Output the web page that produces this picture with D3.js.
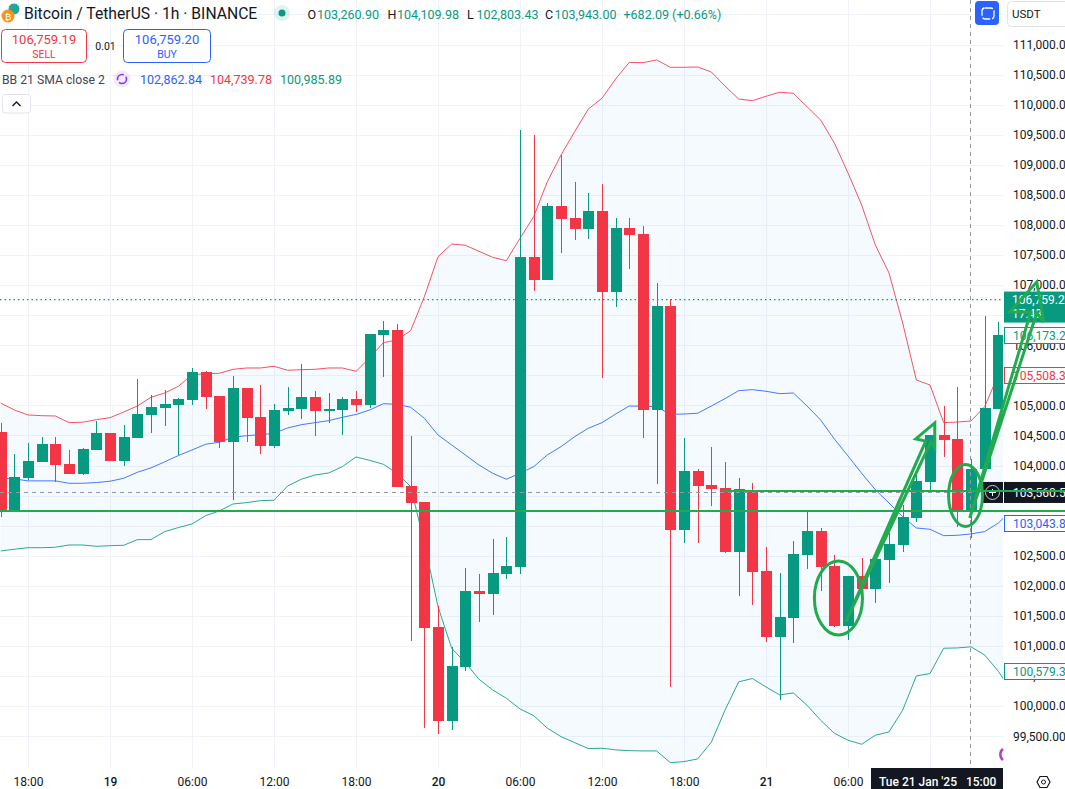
<!DOCTYPE html>
<html>
<head>
<meta charset="utf-8">
<script src="https://cdn.jsdelivr.net/npm/d3@7"></script>
<style>
  html, body { margin: 0; padding: 0; background: #fff; overflow: hidden; }
  text { font-family: Roboto, sans-serif; }
</style>
</head>
<body>
<svg id="chart" width="1065" height="789"></svg>
<script>
// hourly candles, first one is 16:00 on the 18th (hour -2 counted from 18:00)
const firstHour = -2;
const opens = [104558,103245,103793,104059,104359,104026,103860,104259,104541,104076,104458,104841,104957,105007,105090,105555,105157,104392,105290,104807,104325,104907,104940,105140,104907,104924,105107,105007,106171,106254,103660,103394,101316,99753,100651,101915,101865,102197,102314,107467,107085,108315,108116,107933,108232,106886,107950,107850,104924,106653,102929,103910,103677,103627,102563,103594,102247,101150,101466,102513,102912,102330,101333,102164,101948,102430,102679,103128,103727,104508,104442,103260.9,103943,104940];
const highs = [104708,104192,104375,104475,104475,104259,104292,104741,104541,104674,105439,105173,105256,105123,105622,105572,105157,105489,105290,105339,105023,105306,105689,105240,105206,105140,105240,106187,106403,106354,104491,103394,101665,100984,102297,102197,102779,102812,109579,109496,108365,109163,108714,108531,108681,108116,108116,107983,107035,106769,104458,103943,104309,104059,103793,103710,102646,102214,102746,103228,102962,102513,102164,102463,102447,102879,103344,103876,104508,104990,105306,104109.98,106487,106387];
const lows = [103150,103245,103760,104059,103732,103860,103843,104259,104076,103993,104458,104541,104658,104176,105007,104940,104292,103427,104392,104192,104292,104841,104774,104491,104708,104508,104890,104957,105472,103644,101083,99637,99537,99604,100585,101399,101516,102114,102197,106902,107085,107534,107750,107766,105456,106636,107268,104458,103693,100319,102713,102713,103328,102546,101832,101682,101067,100102,101050,102280,101915,101316,101100,101948,101715,102048,102563,103062,103594,104142,102979,102803.43,103910,104940];
const closes = [103228,103810,104076,104359,104009,103860,104275,104541,104076,104475,104857,104974,105023,105107,105555,105140,104392,105290,104791,104325,104924,104957,105140,104907,104940,105107,105007,106187,106254,103644,103378,101300,99753,100668,101915,101865,102214,102330,107467,107085,108315,108099,107933,108232,106886,107950,107833,104924,106653,102929,103910,103660,103610,102563,103610,102230,101150,101482,102530,102912,102314,101333,102164,101948,102447,102696,103145,103743,104508,104425,103261,103943,104957,106173];

// Bollinger bands, one value per hour, they run one hour past the last candle shown
const upperBand = [105040,104924,104841,104829,104824,104713,104720,104763,104796,104890,104990,105135,105206,105317,105510,105527,105534,105600,105622,105622,105650,105584,105594,105600,105622,105622,105567,105788,106043,106088,106242,106807,107472,107683,107662,107562,107462,107406,107778,108137,108719,109163,109551,109928,110106,110427,110704,110698,110743,110621,110621,110626,110543,110310,110094,110066,110139,110206,110189,109966,109745,109363,108864,108332,107667,107201,106370,105423,105339,104713,104724,104739.78,104979,105508.3,105788];
const basisBand = [103788,103778,103745,103745,103745,103705,103705,103717,103739,103788,103888,103961,104061,104166,104259,104354,104387,104470,104497,104513,104536,104625,104679,104713,104746,104802,104849,104924,105028,105018,104969,104786,104508,104342,104176,104009,103871,103772,103871,103981,104176,104314,104480,104620,104713,104857,104990,104985,104979,104849,104857,104869,104990,105112,105245,105262,105235,105195,105206,104990,104757,104442,104159,103871,103598,103377,103150,102962,102940,102834,102840,102862.84,102902,103043.8,103261];
const lowerBand = [102580,102608,102634,102634,102641,102679,102679,102657,102667,102674,102768,102768,102902,102968,103029,103167,103245,103361,103383,103416,103423,103660,103772,103843,103876,103981,104142,104087,104021,103871,103649,102713,101654,100962,100723,100447,100269,100131,99953,99842,99633,99493,99393,99294,99300,99272,99260,99255,99255,99060,99077,99122,99400,99932,100403,100459,100319,100186,100219,100015,99765,99549,99433,99366,99516,99571,99932,100502,100542,100962,100967,100985.89,100850,100579.3,100235];

const priceTicks = [99500,100000,100500,101000,101500,102000,102500,103000,103500,104000,104500,105000,105500,106000,106500,107000,107500,108000,108500,109000,109500,110000,110500,111000];
const gridPrices = priceTicks.concat([111500]);
const timeTicks = [0,6,12,18,24,30,36,42,48,54,60];
const timeLabels = ["18:00","19","06:00","12:00","18:00","20","06:00","12:00","18:00","21","06:00"];
const gridHours = timeTicks.concat([66]);
const dayTicks = ["19","20","21"];

const lastPrice = 106759.2;
const crossHour = 69;
const crossPrice = 103560.5;

// pencil drawings on the chart, in [hour, price]
const lowLine = 103245;
const highLine = 103577;
const highLineStart = 50.84;
const arrowOne = [[59.84,101399],[65.69,104408],[64.96,104442],[66.35,104708],[66.35,104292],[66.06,104392]];
const arrowTwo = [[68.91,103128],[73.37,106553],[71.84,106553],[73.81,107052],[74.32,106387],[73.81,106536]];
const circles = [[59.3,101798,1.76,615],[68.6,103502,1.24,515]];

const axisLabels = [
  {value: 106173.2, color: "#089981"},
  {value: 105508.3, color: "#f23645"},
  {value: 103043.8, color: "#2962ff"},
  {value: 100579.3, color: "#089981"}
];

const width = 1065, height = 789;
const plotRight = 1003, plotBottom = 768;
const upColor = "#089981", downColor = "#f23645", drawColor = "#22ab4e", textColor = "#131722";

const x = d3.scaleLinear().domain([0, 66]).range([28, 930]);
const y = d3.scaleLinear().domain([111000, 99500]).range([44.5, 736.2]);

const svg = d3.select("#chart");
const hours = opens.map(function (d, i) { return firstHour + i; });
const bandHours = upperBand.map(function (d, i) { return firstHour + i; });

svg.append("defs").append("clipPath").attr("id", "plot")
  .append("rect").attr("width", plotRight).attr("height", plotBottom);

const plot = svg.append("g").attr("clip-path", "url(#plot)");

// grid
plot.append("g").selectAll("line").data(gridPrices).join("line")
  .attr("x1", 0).attr("x2", plotRight)
  .attr("y1", function (d) { return Math.round(y(d)) + 0.5; })
  .attr("y2", function (d) { return Math.round(y(d)) + 0.5; })
  .attr("stroke", "#f0f3fa");
plot.append("g").selectAll("line").data(gridHours).join("line")
  .attr("x1", function (d) { return Math.round(x(d)) + 0.5; })
  .attr("x2", function (d) { return Math.round(x(d)) + 0.5; })
  .attr("y1", 0).attr("y2", plotBottom)
  .attr("stroke", "#f0f3fa");

// bands
const bandFill = d3.area()
  .x(function (d, i) { return x(bandHours[i]); })
  .y0(function (d, i) { return y(lowerBand[i]); })
  .y1(function (d) { return y(d); });
plot.append("path").datum(upperBand).attr("d", bandFill)
  .attr("fill", "#2196f3").attr("fill-opacity", 0.05);

const bandLine = d3.line()
  .x(function (d, i) { return x(bandHours[i]); })
  .y(function (d) { return y(d); });
[[upperBand, downColor], [basisBand, "#2962ff"], [lowerBand, upColor]].forEach(function (b) {
  plot.append("path").datum(b[0]).attr("d", bandLine)
    .attr("fill", "none").attr("stroke", b[1]).attr("stroke-width", 1).attr("stroke-opacity", 0.85);
});

// last price line
plot.append("line")
  .attr("x1", 0).attr("x2", plotRight)
  .attr("y1", y(lastPrice)).attr("y2", y(lastPrice))
  .attr("stroke", upColor).attr("stroke-width", 1.2).attr("stroke-dasharray", "1.5 3");

// candles
const candles = plot.append("g").selectAll("g").data(hours).join("g")
  .attr("fill", function (d, i) { return closes[i] >= opens[i] ? upColor : downColor; });
candles.append("rect")
  .attr("x", function (d) { return Math.round(x(d)); })
  .attr("width", 1)
  .attr("y", function (d, i) { return Math.round(y(highs[i])); })
  .attr("height", function (d, i) { return Math.round(y(lows[i])) - Math.round(y(highs[i])); });
candles.append("rect")
  .attr("x", function (d) { return Math.round(x(d)) - 5; })
  .attr("width", 11)
  .attr("y", function (d, i) { return Math.round(y(Math.max(opens[i], closes[i]))); })
  .attr("height", function (d, i) {
    return Math.max(2, Math.round(y(Math.min(opens[i], closes[i]))) - Math.round(y(Math.max(opens[i], closes[i]))));
  });

// crosshair
plot.append("line")
  .attr("x1", Math.round(x(crossHour)) - 0.5).attr("x2", Math.round(x(crossHour)) - 0.5)
  .attr("y1", 0).attr("y2", plotBottom)
  .attr("stroke", "#9598a1").attr("stroke-dasharray", "4 4");
plot.append("line")
  .attr("x1", 0).attr("x2", plotRight)
  .attr("y1", Math.round(y(crossPrice)) + 0.5).attr("y2", Math.round(y(crossPrice)) + 0.5)
  .attr("stroke", "#9598a1").attr("stroke-dasharray", "4 4");

// price axis
const priceAxis = d3.axisRight(y).tickValues(priceTicks).tickSize(0).tickPadding(0)
  .tickFormat(d3.format(",.2f"));
const priceG = svg.append("g").attr("transform", "translate(1013,0)").call(priceAxis);
priceG.select(".domain").remove();
priceG.selectAll("text").attr("fill", textColor).attr("font-size", 12).attr("font-family", "Roboto, sans-serif");

// time axis
const timeAxis = d3.axisBottom(x).tickValues(timeTicks).tickSize(0).tickPadding(0)
  .tickFormat(function (d, i) { return timeLabels[i]; });
const timeG = svg.append("g").attr("transform", "translate(0,777)").call(timeAxis);
timeG.select(".domain").remove();
timeG.selectAll("text")
  .attr("fill", textColor)
  .attr("font-size", 12)
  .attr("font-family", "Roboto, sans-serif")
  .attr("font-weight", function (d, i) { return dayTicks.includes(timeLabels[i]) ? 500 : 400; });

// current price, moving average and band labels on the axis
svg.append("rect").attr("x", 1004).attr("y", y(lastPrice) - 8).attr("width", 61).attr("height", 31).attr("fill", upColor);
svg.append("text").attr("x", 1012).attr("y", y(lastPrice) + 4).attr("fill", "#fff").attr("font-size", 12)
  .text(d3.format(",.2f")(lastPrice));
svg.append("text").attr("x", 1012).attr("y", y(lastPrice) + 18).attr("fill", "#fff").attr("font-size", 12).text("17:43");

axisLabels.forEach(function (d) {
  svg.append("rect").attr("x", 1004.5).attr("y", Math.round(y(d.value)) - 7.5).attr("width", 70).attr("height", 16)
    .attr("fill", "#fff").attr("stroke", d.color);
  svg.append("text").attr("x", 1013).attr("y", Math.round(y(d.value)) + 5).attr("fill", d.color).attr("font-size", 12)
    .text(d3.format(",.2f")(d.value));
});

// crosshair labels
svg.append("rect").attr("x", 983).attr("y", y(crossPrice) - 10).attr("width", 20).attr("height", 21).attr("fill", textColor);
svg.append("rect").attr("x", 1004).attr("y", y(crossPrice) - 10).attr("width", 61).attr("height", 21).attr("fill", textColor);
svg.append("circle").attr("cx", x(crossHour) + 21.5).attr("cy", y(crossPrice) + 0.5).attr("r", 7)
  .attr("fill", "none").attr("stroke", "#c9cbd1");
svg.append("path")
  .attr("d", "M" + (x(crossHour) + 18) + "," + (y(crossPrice) + 0.5) + "h7M" + (x(crossHour) + 21.5) + "," + (y(crossPrice) - 3) + "v7")
  .attr("stroke", "#fff");
svg.append("text").attr("x", 1013).attr("y", y(crossPrice) + 5).attr("fill", "#fff").attr("font-size", 12)
  .text(d3.format(",.2f")(crossPrice));
svg.append("rect").attr("x", 871).attr("y", plotBottom).attr("width", 132).attr("height", 21).attr("fill", textColor);
svg.append("text").attr("x", 879).attr("y", 786).attr("fill", "#fff").attr("font-size", 12).attr("font-weight", 500)
  .attr("xml:space", "preserve").text("Tue 21 Jan '25   15:00");

// pencil drawings
const drawn = svg.append("g").attr("fill", "none").attr("stroke", drawColor);
[lowLine, highLine].forEach(function (p, i) {
  drawn.append("line")
    .attr("x1", i == 0 ? 0 : x(highLineStart)).attr("x2", width)
    .attr("y1", y(p)).attr("y2", y(p))
    .attr("stroke-width", 2);
});
circles.forEach(function (c) {
  drawn.append("ellipse")
    .attr("cx", x(c[0])).attr("cy", y(c[1]))
    .attr("rx", x(c[0] + c[2]) - x(c[0]))
    .attr("ry", y(c[1] - c[3]) - y(c[1]))
    .attr("stroke-width", 3);
});
const arrowPath = d3.line().x(function (d) { return x(d[0]); }).y(function (d) { return y(d[1]); })
  .curve(d3.curveLinearClosed);
[arrowOne, arrowTwo].forEach(function (a) {
  drawn.append("path").datum(a).attr("d", arrowPath).attr("stroke-width", 3).attr("stroke-linejoin", "miter");
});

// header text
const header = svg.append("g");
function label(px, py, str, color, size, anchor) {
  return header.append("text").attr("x", px).attr("y", py).attr("fill", color)
    .attr("font-size", size).attr("text-anchor", anchor || "start").text(str);
}

header.append("circle").attr("cx", 14).attr("cy", 9).attr("r", 6).attr("fill", "#26a69a").attr("stroke", "#fff");
header.append("circle").attr("cx", 8).attr("cy", 16).attr("r", 6.5).attr("fill", "#f7931a");
label(8, 19.5, "₿", "#fff", 9, "middle");
label(24, 19, "Bitcoin / TetherUS · 1h · BINANCE", textColor, 15.7);
header.append("circle").attr("cx", 282).attr("cy", 13).attr("r", 8).attr("fill", upColor).attr("fill-opacity", 0.12);
header.append("circle").attr("cx", 282).attr("cy", 13).attr("r", 3.5).attr("fill", upColor);

[["O", "103,260.90", 307.5], ["H", "104,109.98", 387.5], ["L", "102,803.43", 467], ["C", "103,943.00", 545]].forEach(function (d) {
  label(d[2], 18.5, d[0], textColor, 12.5);
  label(d[2] + 9.5, 18.5, d[1], upColor, 12.5);
});
label(623.5, 18.5, "+682.09 (+0.66%)", upColor, 12.5);

header.append("rect").attr("x", 1.5).attr("y", 29.5).attr("width", 85).attr("height", 33).attr("rx", 4)
  .attr("fill", "#fff").attr("stroke", downColor);
label(44, 44, "106,759.19", downColor, 13, "middle");
label(44, 58, "SELL", downColor, 10.5, "middle");
label(105.5, 50, "0.01", textColor, 10.5, "middle");
header.append("rect").attr("x", 123.5).attr("y", 29.5).attr("width", 87).attr("height", 33).attr("rx", 4)
  .attr("fill", "#fff").attr("stroke", "#2962ff");
label(167, 44, "106,759.20", "#2962ff", 13, "middle");
label(167, 58, "BUY", "#2962ff", 10.5, "middle");

label(2, 84, "BB 21 SMA close 2", "#434651", 12.2);
header.append("circle").attr("cx", 122).attr("cy", 79).attr("r", 8.5).attr("fill", "#9c27b0").attr("fill-opacity", 0.1);
header.append("circle").attr("cx", 122).attr("cy", 79).attr("r", 4.5).attr("fill", "none")
  .attr("stroke", "#7e3ff2").attr("stroke-width", 1.6).attr("stroke-dasharray", "10 2.5 10 2.5");
label(140, 84, "102,862.84", "#2962ff", 12.5);
label(210, 84, "104,739.78", downColor, 12.5);
label(280, 84, "100,985.89", upColor, 12.5);

header.append("rect").attr("x", 2.5).attr("y", 94.5).attr("width", 28).attr("height", 18.5).attr("rx", 3)
  .attr("fill", "#fff").attr("stroke", "#e0e3eb");
header.append("path").attr("d", "M12.5,106l4-4l4,4").attr("fill", "none").attr("stroke", textColor).attr("stroke-width", 1.4);

// top right buttons
header.append("rect").attr("x", 975).attr("y", 1).attr("width", 24).attr("height", 24).attr("rx", 4).attr("fill", "#2962ff");
header.append("rect").attr("x", 982).attr("y", 8).attr("width", 12).attr("height", 11).attr("rx", 3)
  .attr("fill", "none").attr("stroke", "#fff").attr("stroke-width", 1.3).attr("stroke-dasharray", "8 2 9 2");
header.append("rect").attr("x", 1007.5).attr("y", 1.5).attr("width", 70).attr("height", 25).attr("rx", 4)
  .attr("fill", "#fff").attr("stroke", "#e0e3eb");
label(1012, 18, "USDT", textColor, 11.5);

// settings and purple marker at the bottom
header.append("path").attr("d", "M1037,782l3-5.5h7l3,5.5l-3,5.5h-7z").attr("fill", "none").attr("stroke", textColor).attr("stroke-width", 1.2);
header.append("circle").attr("cx", 1043.5).attr("cy", 782).attr("r", 2).attr("fill", "none").attr("stroke", textColor);
header.append("path").attr("d", "M1003,749a7,7 0 0 0 0,11").attr("fill", "none").attr("stroke", "#ab47bc").attr("stroke-width", 2.5);
</script>
</body>
</html>
